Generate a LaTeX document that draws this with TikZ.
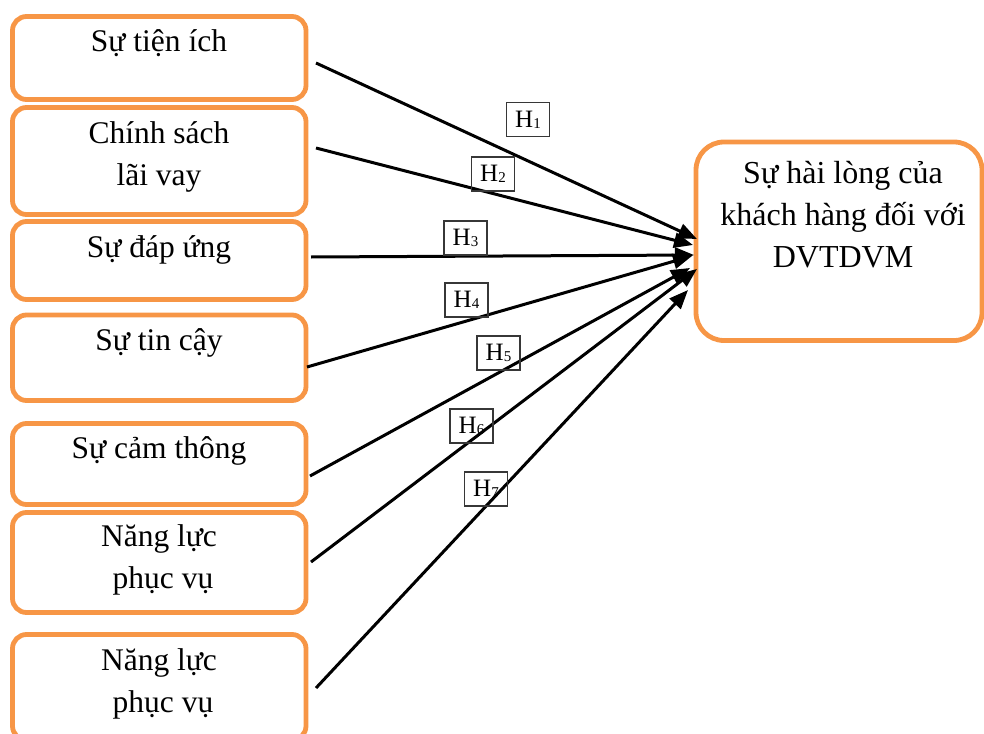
\documentclass[tikz,border=0pt]{standalone}
\usepackage{fontspec}
\setmainfont{Liberation Serif}
\usetikzlibrary{arrows.meta,calc}
\definecolor{boxorange}{RGB}{247,150,70}
\definecolor{hgray}{RGB}{55,55,55}
\newcommand\hypidx[1]{{\fontsize{15}{15}\selectfont\raisebox{-1pt}{#1}}}

\begin{document}
\begin{tikzpicture}[x=1pt,y=-1pt,
  factor/.style={draw=boxorange,line width=4.8pt,rounded corners=14pt,
    minimum width=293.5pt,inner sep=0pt,outer sep=0pt},
  goalbox/.style={draw=boxorange,line width=4.8pt,rounded corners=28pt,
    minimum width=286pt,minimum height=198.5pt,inner sep=0pt,outer sep=0pt},
  labeltext/.style={font=\fontsize{31.5}{42}\selectfont,align=center,anchor=base,inner sep=0pt},
  hyp/.style={draw=hgray,line width=1.3pt,minimum width=43pt,minimum height=34pt,
    inner sep=0pt,font=\fontsize{25}{25}\selectfont},
  link/.style={line width=3pt,-{Triangle[length=19pt,width=15pt]}}
]
\path[use as bounding box] (0,0) rectangle (984,733);
\clip (0,0) rectangle (984,733);

% factor boxes
\node[factor,minimum height=83pt]   (f1) at (159.25,58) {};
\node[factor,minimum height=107pt]  (f2) at (159.25,161) {};
\node[factor,minimum height=78pt]   (f3) at (159.25,260.5) {};
\node[factor,minimum height=85.5pt] (f4) at (159.25,357.75) {};
\node[factor,minimum height=81pt]   (f5) at (159.25,464) {};
\node[factor,minimum height=100pt]  (f6) at (159.25,562.5) {};
\node[factor,minimum height=105.5pt](f7) at (159.25,687.25) {};

% outcome box
\node[goalbox] (goal) at (839,241.25) {};

% box texts (base anchor sits on the last line)
\node[labeltext] (l1) at (159,52)  {Sự tiện ích};
\node[labeltext] (l2) at (159,185) {Chính sách\\lãi vay};
\node[labeltext] (l3) at (159,257) {Sự đáp ứng};
\node[labeltext] (l4) at (159,350) {Sự tin cậy};
\node[labeltext] (l5) at (159,458) {Sự cảm thông};
\node[labeltext] (l6) at (159,588) {Năng lực\\\hspace*{8pt}phục vụ};
\node[labeltext] (l7) at (159,712) {Năng lực\\\hspace*{8pt}phục vụ};
\node[labeltext,font=\fontsize{32}{42}\selectfont] (lg) at (843,267) {Sự hài lòng của\\khách hàng đối với\\DVTDVM};

% hypothesis arrows
\draw[link] ($(f1.east)+(10,5)$)     -- ($(goal.west)+(1,-2.25)$);
\draw[link] ($(f2.east)+(10,-13)$)   -- ($(goal.west)+(-3,3.75)$);
\draw[link] ($(f3.east)+(5,-3.5)$)   -- ($(goal.west)+(-2,13.75)$);
\draw[link] ($(f4.east)+(1,9.25)$)   -- ($(goal.west)+(-4,14.75)$);
\draw[link] ($(f5.east)+(4,12)$)     -- ($(goal.west)+(-6,26.75)$);
\draw[link] ($(f6.east)+(5,-0.5)$)   -- ($(goal.west)+(1,27.75)$);
\draw[link] ($(f7.east)+(10,0.75)$)  -- ($(goal.west)+(-8,48.75)$);

% hypothesis labels
\node[hyp] (h1) at (528,119.5) {H\hypidx{1}};
\node[hyp] (h2) at (493,174)   {H\hypidx{2}};
\node[hyp] (h3) at (465.5,238) {H\hypidx{3}};
\node[hyp] (h4) at (466.5,300) {H\hypidx{4}};
\node[hyp] (h5) at (498.5,353) {H\hypidx{5}};
\node[hyp] (h6) at (471.5,426) {H\hypidx{6}};
\node[hyp] (h7) at (486,489)   {H\hypidx{7}};
\end{tikzpicture}
\end{document}
